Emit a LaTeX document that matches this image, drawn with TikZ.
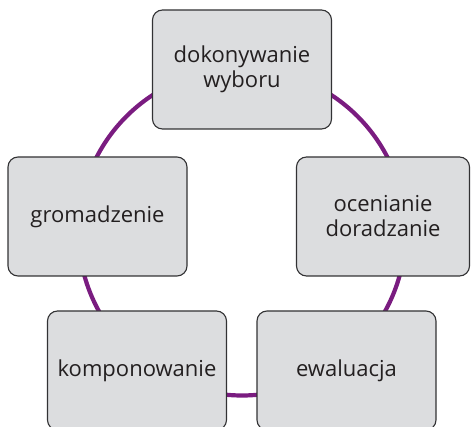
\documentclass[tikz,border=0pt]{standalone}
\usepackage{fontspec}
\setmainfont{Open Sans}
\definecolor{ringpurple}{RGB}{122,28,128}
\definecolor{boxfill}{RGB}{220,221,223}
\definecolor{boxline}{RGB}{50,50,52}
\definecolor{txt}{RGB}{35,31,32}
\begin{document}
\begin{tikzpicture}[x=1pt,y=-1pt,
  stagebox/.style={draw=boxline, line width=1.1pt, fill=boxfill, rounded corners=10pt,
    minimum width=179pt, minimum height=119pt, inner sep=0pt, text=txt, align=center,
    font=\fontsize{22}{25}\selectfont}]
\useasboundingbox (0,0) rectangle (471,427);
\clip (0,0) rectangle (471,427);
\draw[ringpurple, line width=4.2pt] (242,232) circle[radius=163.5];
\node[stagebox] (wyb) at (242,69.5) {dokonywanie\\wyboru};
\node[stagebox, minimum width=173pt] (ocen) at (383,216.5) {ocenianie\\doradzanie};
\node[stagebox] (gro) at (97.5,216.5) {gromadzenie};
\node[stagebox] (kom) at (137,370.5) {komponowanie};
\node[stagebox] (ewa) at (346.5,370.5) {ewaluacja};
\end{tikzpicture}
\end{document}
